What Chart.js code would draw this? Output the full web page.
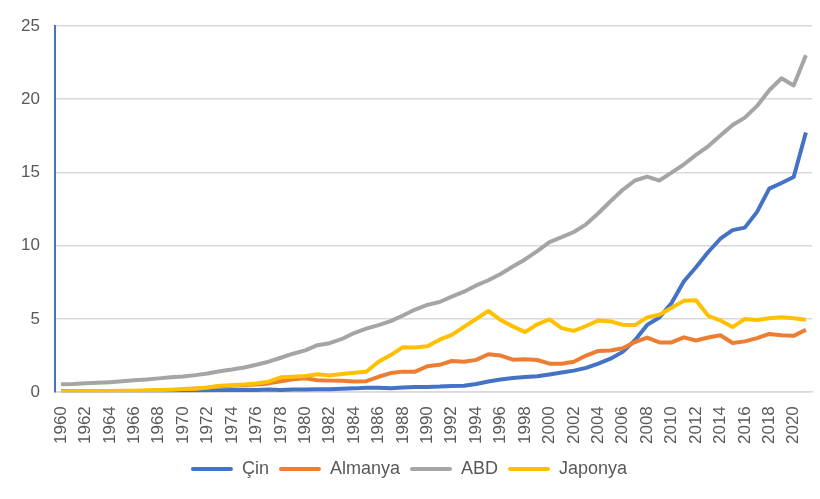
<!DOCTYPE html>
<html>
<head>
<meta charset="utf-8">
<script src="https://cdn.jsdelivr.net/npm/chart.js@4/dist/chart.umd.min.js"></script>
<style>
  html, body { margin: 0; padding: 0; background: #fff; }
  #wrap { width: 820px; height: 499px; }
</style>
</head>
<body>
<div id="wrap"><canvas id="grafik"></canvas></div>
<script>
// yıllar (kategori ekseni)
const yillar = [
  1960, 1961, 1962, 1963, 1964, 1965, 1966, 1967, 1968, 1969,
  1970, 1971, 1972, 1973, 1974, 1975, 1976, 1977, 1978, 1979,
  1980, 1981, 1982, 1983, 1984, 1985, 1986, 1987, 1988, 1989,
  1990, 1991, 1992, 1993, 1994, 1995, 1996, 1997, 1998, 1999,
  2000, 2001, 2002, 2003, 2004, 2005, 2006, 2007, 2008, 2009,
  2010, 2011, 2012, 2013, 2014, 2015, 2016, 2017, 2018, 2019,
  2020, 2021
];

const cin = [
  0.060, 0.050, 0.047, 0.051, 0.060, 0.070, 0.077, 0.073, 0.071, 0.080,
  0.093, 0.100, 0.114, 0.139, 0.144, 0.163, 0.154, 0.175, 0.150, 0.178,
  0.191, 0.196, 0.205, 0.230, 0.260, 0.309, 0.301, 0.273, 0.312, 0.348,
  0.361, 0.383, 0.427, 0.445, 0.564, 0.734, 0.864, 0.962, 1.029, 1.094,
  1.211, 1.339, 1.471, 1.660, 1.955, 2.286, 2.752, 3.550, 4.594, 5.102,
  6.087, 7.552, 8.532, 9.570, 10.476, 11.062, 11.233, 12.310, 13.895, 14.280,
  14.688, 17.734
];

const almanya = [
  null, null, null, null, null, null, null, null, null, null,
  0.216, 0.249, 0.300, 0.398, 0.446, 0.491, 0.520, 0.600, 0.740, 0.882,
  0.950, 0.810, 0.789, 0.781, 0.729, 0.751, 1.051, 1.304, 1.403, 1.399,
  1.771, 1.869, 2.131, 2.072, 2.206, 2.586, 2.497, 2.216, 2.242, 2.196,
  1.948, 1.945, 2.079, 2.502, 2.814, 2.846, 2.993, 3.421, 3.731, 3.398,
  3.396, 3.744, 3.527, 3.733, 3.890, 3.358, 3.469, 3.690, 3.975, 3.889,
  3.846, 4.260
];

const abd = [
  0.543, 0.563, 0.605, 0.638, 0.686, 0.744, 0.815, 0.862, 0.942, 1.020,
  1.073, 1.165, 1.280, 1.425, 1.545, 1.684, 1.873, 2.081, 2.351, 2.627,
  2.857, 3.207, 3.343, 3.634, 4.037, 4.339, 4.580, 4.855, 5.236, 5.642,
  5.963, 6.158, 6.520, 6.859, 7.287, 7.640, 8.073, 8.578, 9.063, 9.631,
  10.251, 10.582, 10.936, 11.458, 12.214, 13.037, 13.815, 14.452, 14.713, 14.449,
  14.992, 15.543, 16.197, 16.785, 17.527, 18.238, 18.745, 19.543, 20.612, 21.433,
  20.937, 22.996
];

const japonya = [
  0.044, 0.054, 0.061, 0.070, 0.082, 0.091, 0.106, 0.124, 0.147, 0.172,
  0.213, 0.240, 0.318, 0.432, 0.480, 0.521, 0.587, 0.722, 1.013, 1.055,
  1.105, 1.219, 1.135, 1.243, 1.319, 1.399, 2.079, 2.533, 3.072, 3.055,
  3.133, 3.584, 3.909, 4.455, 4.999, 5.546, 4.923, 4.492, 4.098, 4.636,
  4.968, 4.374, 4.183, 4.519, 4.893, 4.831, 4.601, 4.580, 5.106, 5.289,
  5.759, 6.234, 6.272, 5.212, 4.897, 4.445, 5.004, 4.931, 5.041, 5.118,
  5.049, 4.941
];

const yTikleri = [0, 5, 10, 15, 20, 25];

const font = "'Liberation Sans', Arial, sans-serif";
const yaziRengi = '#595959';

function seri(etiket, veri, renk, sira) {
  return {
    label: etiket,
    data: veri,
    borderColor: renk,
    backgroundColor: renk,
    borderWidth: 4,
    pointRadius: 0,
    tension: 0,
    borderJoinStyle: 'round',
    order: sira
  };
}

const ctx = document.getElementById('grafik').getContext('2d');
new Chart(ctx, {
  type: 'line',
  data: {
    labels: yillar,
    datasets: [
      seri('Çin', cin, '#4472C4', 4),
      seri('Almanya', almanya, '#ED7D31', 3),
      seri('ABD', abd, '#A5A5A5', 2),
      seri('Japonya', japonya, '#FFC000', 1)
    ]
  },
  options: {
    responsive: true,
    maintainAspectRatio: false,
    animation: false,
    layout: { padding: { top: 26, right: 8, left: 6, bottom: 11 } },
    plugins: {
      tooltip: { enabled: false },
      legend: {
        position: 'bottom',
        labels: {
          color: yaziRengi,
          font: { family: font, size: 18 },
          boxWidth: 42,
          boxHeight: 4,
          padding: 10,
          sort: (a, b) => a.datasetIndex - b.datasetIndex,
          generateLabels: (chart) => {
            const items = Chart.defaults.plugins.legend.labels.generateLabels(chart);
            return items.map(i => ({ ...i, fillStyle: i.strokeStyle, lineWidth: 0, borderRadius: 2 }));
          }
        }
      }
    },
    scales: {
      x: {
        offset: true,
        grid: { display: false },
        border: { color: '#D9D9D9', width: 1.5 },
        afterFit: (axis) => { axis.paddingRight = 0; },
        ticks: {
          color: yaziRengi,
          font: { family: font, size: 17 },
          autoSkip: false,
          maxRotation: 90,
          minRotation: 90,
          padding: 6,
          callback: function (value, index) {
            return index % 2 === 0 ? this.getLabelForValue(value) : '';
          }
        }
      },
      y: {
        min: 0,
        max: 25,
        afterBuildTicks: (axis) => { axis.ticks = yTikleri.map(v => ({ value: v })); },
        grid: { color: '#D9D9D9', lineWidth: 1.5, drawTicks: false },
        border: { color: '#4472C4', width: 2 },
        ticks: {
          color: yaziRengi,
          font: { family: font, size: 17 },
          padding: 15
        }
      }
    }
  }
});
</script>
</body>
</html>
